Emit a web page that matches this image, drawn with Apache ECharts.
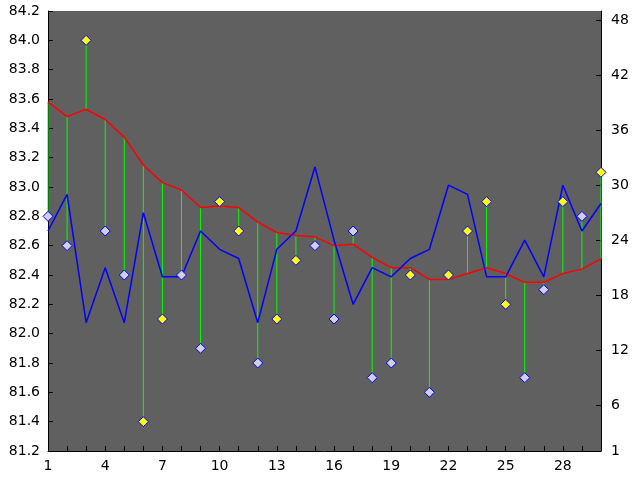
<!DOCTYPE html>
<html><head><meta charset="utf-8">
<script src="https://cdn.jsdelivr.net/npm/echarts@6/dist/echarts.min.js"></script>
<style>html,body{margin:0;padding:0;background:#fff}#c{width:640px;height:480px}</style>
</head><body><div id="c"></div>
<script>
const categories = ['1','2','3','4','5','6','7','8','9','10','11','12','13','14','15','16','17','18','19','20','21','22','23','24','25','26','27','28','29','30'];
const markerValues = [82.8,82.6,84.0,82.7,82.4,81.4,82.1,82.4,81.9,82.9,82.7,81.8,82.1,82.5,82.6,82.1,82.7,81.7,81.8,82.4,81.6,82.4,82.7,82.9,82.2,81.7,82.3,82.9,82.8,83.1];
const markerYellow = [0,0,1,0,0,1,1,0,0,1,1,0,1,1,0,0,0,0,0,1,0,1,1,1,1,0,0,1,0,1];
const trendValues = [83.58,83.48,83.53,83.46,83.34,83.15,83.03,82.98,82.86,82.87,82.86,82.76,82.69,82.67,82.66,82.60,82.61,82.52,82.45,82.45,82.37,82.37,82.41,82.45,82.41,82.35,82.35,82.41,82.44,82.51];
const countValues = [25,29,15,21,15,27,20,20,25,23,22,15,23,25,32,24,17,21,20,22,23,30,29,20,20,24,20,30,25,28];
const rightTickValues = [1,6,12,18,24,30,36,42,48];

const yellowPts = [], grayPts = [];
markerValues.forEach((v, i) => { (markerYellow[i] ? yellowPts : grayPts).push([i, v]); });
const dropData = markerValues.map((v, i) => [i, v, trendValues[i]]);

const labelFont = { color: '#000', fontFamily: 'DejaVu Sans', fontSize: 14 };
const chart = echarts.init(document.getElementById('c'));
chart.setOption({
  animation: false,
  backgroundColor: '#ffffff',
  grid: { left: 48, right: 39, top: 11, bottom: 29, show: true, backgroundColor: '#606060', borderWidth: 0 },
  xAxis: {
    type: 'category', data: categories, boundaryGap: false,
    axisLine: { show: true, lineStyle: { color: '#000', width: 1 } },
    axisTick: { show: true, inside: true, interval: 0, length: 5, lineStyle: { color: '#000' } },
    axisLabel: Object.assign({ interval: 2, margin: 8 }, labelFont),
    splitLine: { show: false }
  },
  yAxis: [{
    type: 'value', min: 81.2, max: 84.2, interval: 0.2, position: 'left',
    axisLine: { show: true, lineStyle: { color: '#000', width: 1 } },
    axisTick: { show: true, inside: true, length: 5, lineStyle: { color: '#000' } },
    axisLabel: Object.assign({ margin: 8, formatter: v => v.toFixed(1) }, labelFont),
    splitLine: { show: false }
  }, {
    type: 'value', min: 1, max: 49, position: 'right',
    axisLine: { show: true, lineStyle: { color: '#000', width: 1 } },
    axisTick: { show: true, inside: true, length: 5, customValues: rightTickValues, lineStyle: { color: '#000' } },
    axisLabel: Object.assign({ margin: 10, customValues: rightTickValues }, labelFont),
    splitLine: { show: false }
  }],
  series: [{
    type: 'custom', xAxisIndex: 0, yAxisIndex: 0, data: dropData,
    encode: { x: 0, y: [1, 2] }, z: 1,
    renderItem: function (params, api) {
      const a = api.coord([api.value(0), api.value(1)]);
      const b = api.coord([api.value(0), api.value(2)]);
      return { type: 'line', shape: { x1: a[0], y1: a[1], x2: b[0], y2: b[1] }, style: { stroke: '#00ff00', lineWidth: 1 } };
    }
  }, {
    type: 'line', data: trendValues, yAxisIndex: 0, symbol: 'none', z: 2,
    lineStyle: { color: '#ff0000', width: 1.5 }
  }, {
    type: 'line', data: countValues, yAxisIndex: 1, symbol: 'none', z: 3,
    lineStyle: { color: '#0000ff', width: 1.5 }
  }, {
    type: 'scatter', data: grayPts, yAxisIndex: 0, symbol: 'diamond', symbolSize: 10, z: 4,
    itemStyle: { color: '#d0d0e4', borderColor: '#0000ff', borderWidth: 1, opacity: 1 }
  }, {
    type: 'scatter', data: yellowPts, yAxisIndex: 0, symbol: 'diamond', symbolSize: 10, z: 4,
    itemStyle: { color: '#ffff00', borderColor: '#0000ff', borderWidth: 1, opacity: 1 }
  }]
});
</script>
</body></html>
